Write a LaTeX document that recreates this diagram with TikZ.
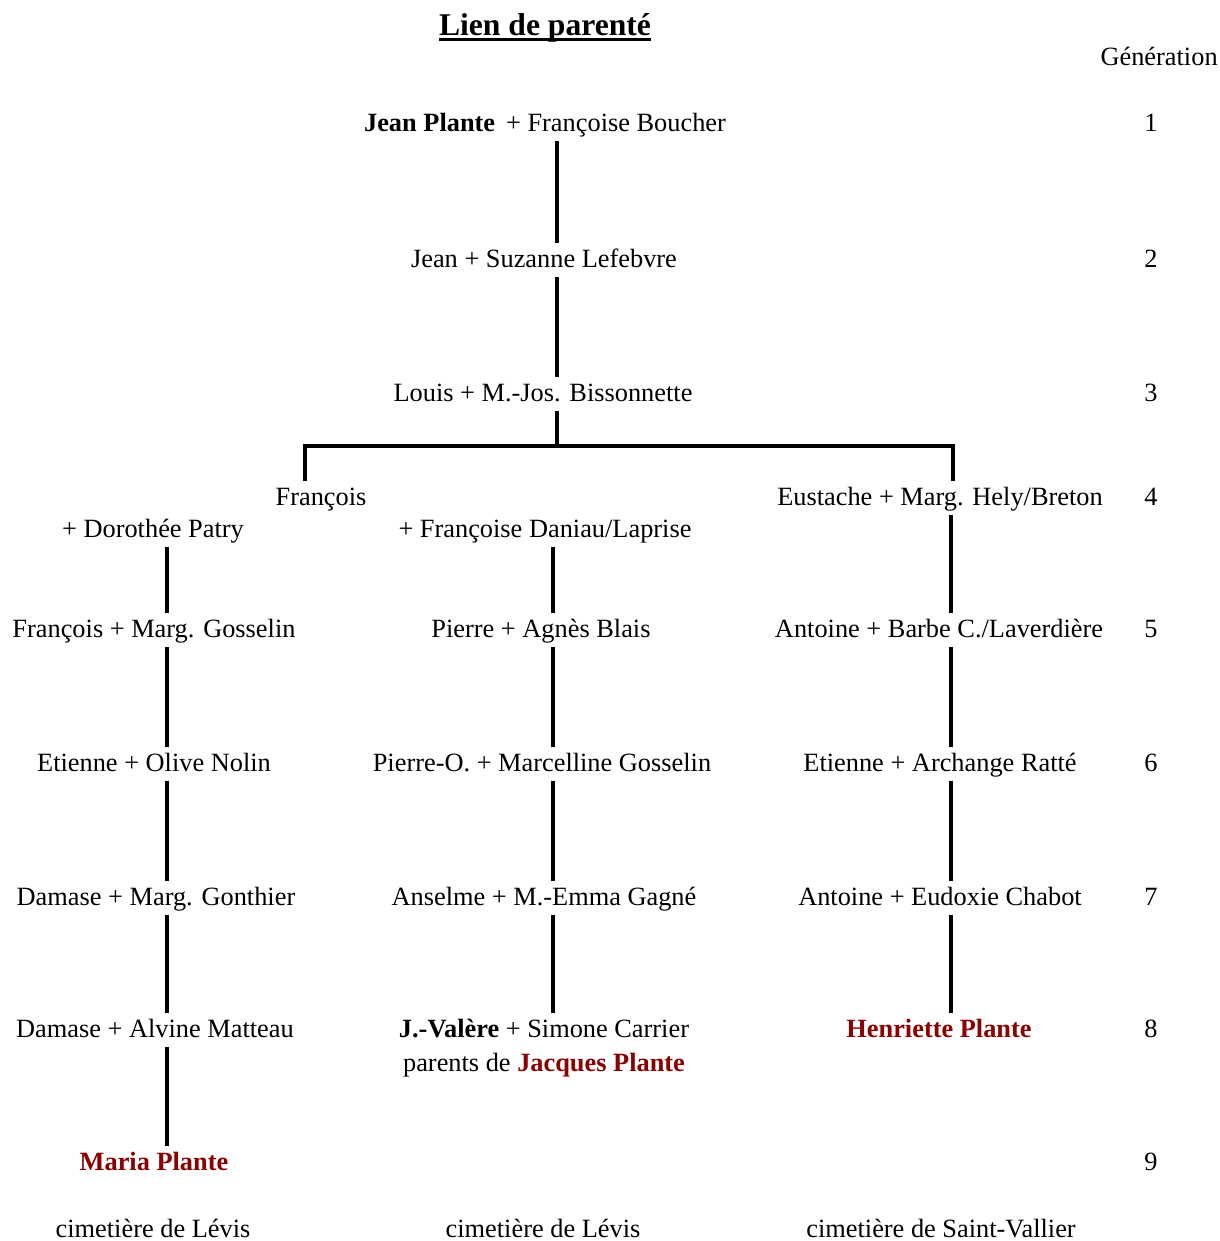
\documentclass[tikz,border=0pt]{standalone}
\usepackage{fontspec}
\setmainfont{Liberation Serif}
\definecolor{kinred}{RGB}{139,0,0}
\tikzset{
  person/.style={minimum height=0.68cm, inner sep=0pt, text height=10pt, text depth=1.5pt},
  link/.style={line width=2.3pt},
  famous/.style={person, font=\fontsize{15}{18}\selectfont\bfseries, text=kinred}
}

\begin{document}
\begin{tikzpicture}[x=0.02cm, y=-0.02cm, font=\fontsize{15}{18}\selectfont]
    \useasboundingbox (0,0) rectangle (1220,1241);

    % Title
    \node[inner sep=0pt, anchor=base, font=\fontsize{18}{22}\selectfont\bfseries] (title) at (545,35) {Lien de parenté};
    \draw[line width=1.7pt] ([yshift=-2.6pt]title.base west) -- ([yshift=-2.6pt]title.base east);

    % Generation column
    \node[person, anchor=east] (genlabel) at (1218,58) {Génération};
    \foreach \g/\y in {1/124, 2/260, 3/394, 4/498, 5/630, 6/764, 7/898, 8/1030, 9/1163}
        \node[person] (n\g) at (1151,\y) {\g};

    % Line x positions
    \coordinate (tx) at (557,0);
    \coordinate (lx) at (167,0);
    \coordinate (mx) at (553,0);
    \coordinate (rx) at (951,0);
    \coordinate (bar) at (557,446);
    \coordinate (ldrop) at (305,446);
    \coordinate (rdrop) at (953,446);

    % Generations 1-3
    \node[person] (jean1) at (545,124) {\textbf{Jean Plante}\, + Françoise Boucher};
    \node[person] (jean2) at (544,260) {Jean + Suzanne Lefebvre};
    \node[person] (louis3) at (543,394) {Louis + M.-Jos. Bissonnette};

    % Generation 4
    \node[person] (francois4) at (321,498) {François};
    \node[person] (left4) at (153,530) {+ Dorothée Patry};
    \node[person] (mid4) at (545,530) {+ Françoise Daniau/Laprise};
    \node[person] (right4) at (940,498) {Eustache + Marg. Hely/Breton};

    % Generation 5
    \node[person] (left5) at (154,630) {François + Marg. Gosselin};
    \node[person] (mid5) at (541,630) {Pierre + Agnès Blais};
    \node[person] (right5) at (939,630) {Antoine + Barbe C./Laverdière};

    % Generation 6
    \node[person] (left6) at (154,764) {Etienne + Olive Nolin};
    \node[person] (mid6) at (542,764) {Pierre-O. + Marcelline Gosselin};
    \node[person] (right6) at (940,764) {Etienne + Archange Ratté};

    % Generation 7
    \node[person] (left7) at (156,898) {Damase + Marg. Gonthier};
    \node[person] (mid7) at (544,898) {Anselme + M.-Emma Gagné};
    \node[person] (right7) at (940,898) {Antoine + Eudoxie Chabot};

    % Generation 8
    \node[person] (left8) at (155,1030) {Damase + Alvine Matteau};
    \node[person] (mid8) at (544,1030) {\textbf{J.-Valère} + Simone Carrier};
    \node[person] (mid8b) at (544,1064) {parents de \textbf{\color{kinred}Jacques Plante}};
    \node[famous] (right8) at (939,1030) {Henriette Plante};

    % Generation 9
    \node[famous] (left9) at (154,1163) {Maria Plante};

    % Cemeteries
    \node[person] (cemleft) at (153,1230) {cimetière de Lévis};
    \node[person] (cemmid) at (543,1230) {cimetière de Lévis};
    \node[person] (cemright) at (941,1230) {cimetière de Saint-Vallier};

    % Connections
    \draw[link] (jean1.south -| tx) -- (jean2.north -| tx);
    \draw[link] (jean2.south -| tx) -- (louis3.north -| tx);
    \draw[link] (louis3.south -| tx) -- (bar);
    \draw[link] (francois4.north -| ldrop) |- (rdrop) -- (right4.north -| rdrop); % branch to both lines
    \foreach \a/\b in {left4/left5, left5/left6, left6/left7, left7/left8, left8/left9}
        \draw[link] (\a.south -| lx) -- (\b.north -| lx);
    \foreach \a/\b in {mid4/mid5, mid5/mid6, mid6/mid7, mid7/mid8}
        \draw[link] (\a.south -| mx) -- (\b.north -| mx);
    \foreach \a/\b in {right4/right5, right5/right6, right6/right7, right7/right8}
        \draw[link] (\a.south -| rx) -- (\b.north -| rx);

\end{tikzpicture}
\end{document}
